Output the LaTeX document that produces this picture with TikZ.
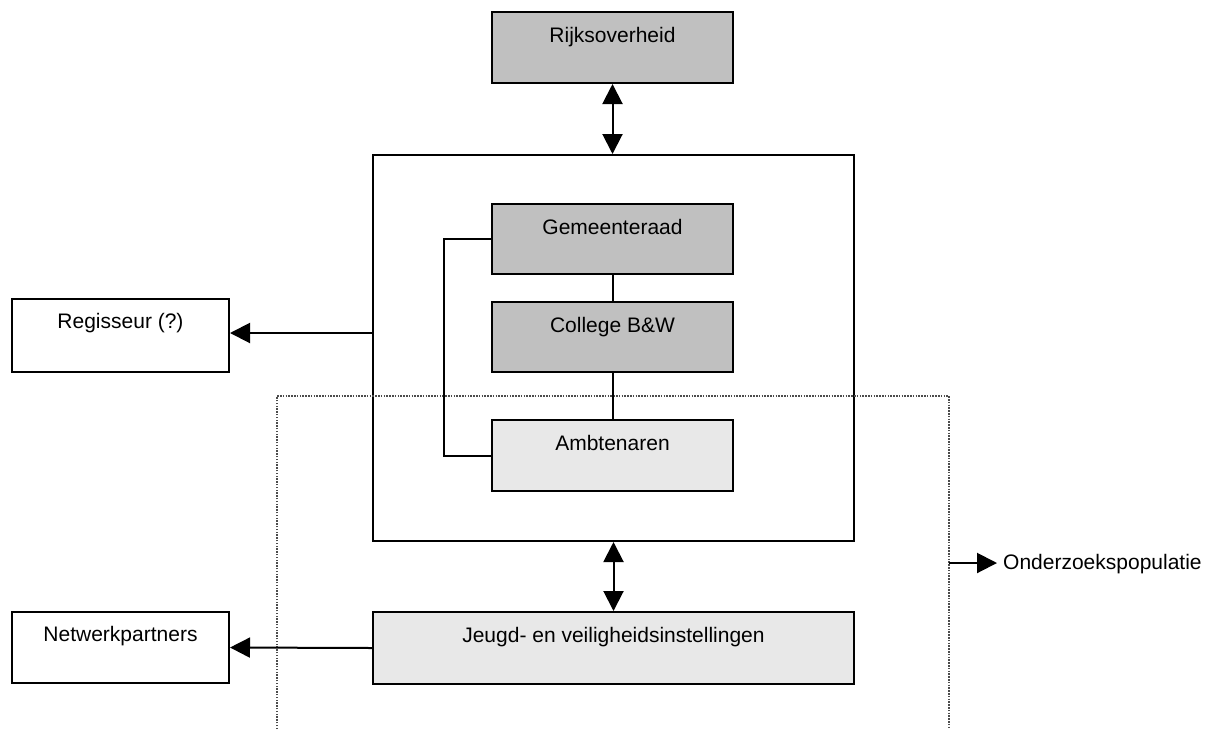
\documentclass[tikz,border=0pt]{standalone}
\usepackage{fontspec}
\setmainfont{Liberation Sans}
\usetikzlibrary{arrows.meta}
\definecolor{boxdark}{RGB}{192,192,192}
\definecolor{boxlight}{RGB}{232,232,232}
\begin{document}
\begin{tikzpicture}[x=1pt,y=-1pt,
  every node/.style={font=\fontsize{21}{25}\selectfont},
  box/.style={draw=black, line width=2pt, inner sep=0pt},
  darkbox/.style={box, fill=boxdark},
  lightbox/.style={box, fill=boxlight},
  caption/.style={anchor=base, inner sep=0pt},
  link/.style={line width=2pt},
  tip/.style={line width=2pt, -{Triangle[length=20pt,width=20pt]}},
  twotip/.style={line width=2pt, {Triangle[length=20pt,width=20pt]}-{Triangle[length=20pt,width=20pt]}},
  scope line/.style={draw=black!70, line width=1.5pt, dash pattern=on 1.5pt off 1.3pt}
]
\useasboundingbox (0,0) rectangle (1215,729);

% top level
\node[darkbox, minimum width=241pt, minimum height=71pt] (rijk) at (612.5,47.5) {};
\node[caption] (rijkt) at ([yshift=-31pt]rijk.north) {Rijksoverheid};

% municipality frame
\node[box, minimum width=481pt, minimum height=386pt] (gemeente) at (613.5,348) {};

\node[darkbox, minimum width=241pt, minimum height=70pt] (raad) at (612.5,239) {};
\node[caption] (raadt) at ([yshift=-31pt]raad.north) {Gemeenteraad};

\node[darkbox, minimum width=241pt, minimum height=70pt] (college) at (612.5,337) {};
\node[caption] (colleget) at ([yshift=-31pt]college.north) {College B\&W};

\node[lightbox, minimum width=241pt, minimum height=71pt] (amb) at (612.5,455.5) {};
\node[caption] (ambt) at ([yshift=-31pt]amb.north) {Ambtenaren};

% side boxes
\node[box, fill=white, minimum width=217pt, minimum height=73pt] (regie) at (120.5,335.5) {};
\node[caption] (regiet) at ([yshift=-30pt]regie.north) {Regisseur (?)};

\node[box, fill=white, minimum width=217pt, minimum height=71pt] (netwerk) at (120.5,647.5) {};
\node[caption] (netwerkt) at ([yshift=-30pt]netwerk.north) {Netwerkpartners};

% institutions
\node[lightbox, minimum width=481pt, minimum height=72pt] (jeugd) at (613.5,648) {};
\node[caption] (jeugdt) at ([yshift=-31pt]jeugd.north) {Jeugd- en veiligheidsinstellingen};

% research population boundary
\coordinate (popL) at (277,729);
\coordinate (popTL) at (277,396);
\coordinate (popTR) at (949,396);
\coordinate (popR) at (949,729);
\draw[scope line] (popL) -- (popTL) -- (popTR) -- (popR);
\coordinate (popArrow) at (949,563);
\node[anchor=base west, inner sep=0pt] (pop) at (1003,569) {Onderzoekspopulatie};
\draw[tip] (popArrow) -- ([xshift=-6pt]pop.west |- popArrow);

% connectors
\draw[twotip] (rijk.south) -- (rijk.south |- gemeente.north);
\draw[link] (raad.south) -- (college.north);
\draw[link] (college.south) -- (amb.north);
\draw[link] (raad.west) -- ++(-47,0) |- (amb.west);
\draw[tip] (gemeente.west |- 0,333) -- (regie.east |- 0,333);
\draw[twotip] (gemeente.south) -- (jeugd.north);
\draw[tip] (jeugd.west) -- (netwerk.east);
\end{tikzpicture}
\end{document}
